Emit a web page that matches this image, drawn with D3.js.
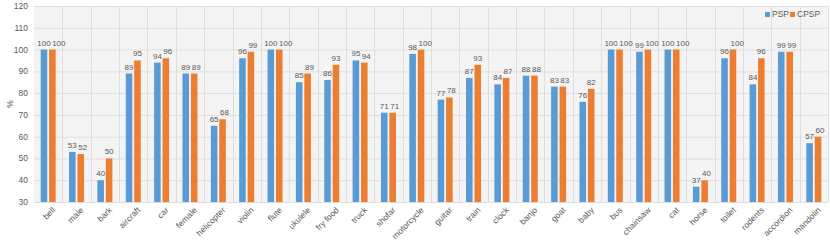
<!DOCTYPE html>
<html>
<head>
<meta charset="utf-8">
<script src="https://cdn.jsdelivr.net/npm/d3@7"></script>
<style>
  body { margin: 0; background: #fff; }
  text { font-family: "Liberation Sans", Arial, sans-serif; fill: #595959; }
</style>
</head>
<body>
<script>
var categories = ['bell', 'male', 'bark', 'aircraft', 'car', 'female', 'helicopter', 'violin', 'flute', 'ukulele',
  'fry food', 'truck', 'shofar', 'motorcycle', 'guitar', 'train', 'clock', 'banjo', 'goat', 'baby',
  'bus', 'chainsaw', 'cat', 'horse', 'toilet', 'rodents', 'accordion', 'mandolin'];
var psp = [100, 53, 40, 89, 94, 89, 65, 96, 100, 85, 86, 95, 71, 98, 77, 87, 84, 88, 83, 76, 100, 99, 100, 37, 96, 84, 99, 57];
var cpsp = [100, 52, 50, 95, 96, 89, 68, 99, 100, 89, 93, 94, 71, 100, 78, 93, 87, 88, 83, 82, 100, 100, 100, 40, 100, 96, 99, 60];
var yTicks = [30, 40, 50, 60, 70, 80, 90, 100, 110, 120];
var seriesNames = ['PSP', 'CPSP'];
var colours = ['#5B9BD5', '#ED7D31'];

var width = 830, height = 242;
var margin = {top: 6, right: 2, bottom: 40, left: 34};
var w = width - margin.left - margin.right,
  h = height - margin.top - margin.bottom;

var svg = d3.select(document.body).append('svg').attr('width', width).attr('height', height);
var g = svg.append('g').attr('transform', 'translate(' + margin.left + ',' + margin.top + ')');

var x = d3.scaleBand().domain(categories).range([0, w]);
var x1 = d3.scaleBand().domain(seriesNames).range([x.bandwidth() / 2 - 7.5, x.bandwidth() / 2 + 7.5]).paddingInner(0.22);
var y = d3.scaleLinear().domain([30, 120]).range([h, 0]);

g.append('rect').attr('width', w).attr('height', h).attr('fill', '#f4f4f4');

// grid
g.selectAll('.hgrid').data(yTicks).enter().append('line')
  .attr('x1', 0).attr('x2', w)
  .attr('y1', function (d) { return y(d) + 0.5; })
  .attr('y2', function (d) { return y(d) + 0.5; })
  .attr('stroke', '#dedede').attr('stroke-width', 1);
g.selectAll('.vgrid').data(categories.slice(1).concat(['__end'])).enter().append('line')
  .attr('x1', function (d, i) { return Math.round(x.step() * (i + 1)) + 0.5; })
  .attr('x2', function (d, i) { return Math.round(x.step() * (i + 1)) + 0.5; })
  .attr('y1', 0).attr('y2', h)
  .attr('stroke', '#dedede');

// y axis labels
g.selectAll('.ytick').data(yTicks).enter().append('text')
  .attr('x', -6).attr('y', function (d) { return y(d); })
  .attr('dy', '0.35em').attr('text-anchor', 'end')
  .style('font-size', '8.5px')
  .text(function (d) { return d; });

svg.append('text')
  .attr('transform', 'translate(10,' + (margin.top + h / 2) + ') rotate(-90)')
  .attr('text-anchor', 'middle').attr('dy', '0.35em')
  .style('font-size', '8.5px').text('%');

// bars
var rows = categories.map(function (c, i) { return {cat: c, vals: [psp[i], cpsp[i]]}; });
var grp = g.selectAll('.cat').data(rows).enter().append('g')
  .attr('transform', function (d) { return 'translate(' + x(d.cat) + ',0)'; });

grp.selectAll('rect').data(function (d) {
  return d.vals.map(function (v, j) { return {s: seriesNames[j], v: v, j: j}; });
}).enter().append('rect')
  .attr('x', function (d) { return x1(d.s); })
  .attr('width', x1.bandwidth())
  .attr('y', function (d) { return y(d.v); })
  .attr('height', function (d) { return h - y(d.v); })
  .attr('fill', function (d) { return colours[d.j]; });

// data labels, orange one pushed right when the two would collide
var digitW = 4.45;
grp.selectAll('.lbl').data(function (d) {
  var a = d.vals[0], b = d.vals[1];
  var ca = x1('PSP') + x1.bandwidth() / 2, cb = x1('CPSP') + x1.bandwidth() / 2;
  var wa = String(a).length * digitW, wb = String(b).length * digitW;
  if (Math.abs(y(a) - y(b)) < 9) cb = Math.max(cb, ca + wa / 2 + wb / 2 + 1.5);
  return [{v: a, cx: ca}, {v: b, cx: cb}];
}).enter().append('text')
  .attr('x', function (d) { return d.cx; })
  .attr('y', function (d) { return y(d.v) - 4; })
  .attr('text-anchor', 'middle')
  .style('font-size', '8px')
  .text(function (d) { return d.v; });

// category labels
g.selectAll('.xl').data(categories).enter().append('text')
  .attr('transform', function (d) {
    return 'translate(' + (x(d) + x.bandwidth() / 2 + 4) + ',' + (h + 5) + ') rotate(-45)';
  })
  .attr('text-anchor', 'end').attr('dy', '0.6em')
  .style('font-size', '8.5px')
  .text(function (d) { return d; });

// legend
var legend = svg.selectAll('.leg').data(seriesNames).enter().append('g')
  .attr('transform', function (d, i) { return 'translate(' + (765 + i * 25) + ',12)'; });
legend.append('rect').attr('width', 5).attr('height', 5).attr('fill', function (d, i) { return colours[i]; });
legend.append('text').attr('x', 7).attr('y', 2.5).attr('dy', '0.35em')
  .style('font-size', '8.5px').text(function (d) { return d; });
</script>
</body>
</html>
